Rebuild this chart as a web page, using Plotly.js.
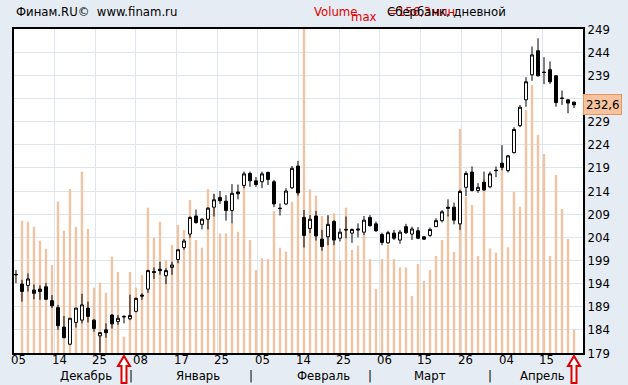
<!DOCTYPE html>
<html><head><meta charset="utf-8">
<script src="https://cdn.plot.ly/plotly-3.0.1.min.js"></script>
<style>html,body{margin:0;padding:0;background:#e6ecf4;}</style>
</head><body><div id="chart" style="width:628px;height:385px;"></div>
<script>
// ---- data ----
const openP  = [196.0,193.9,193.6,192.6,192.8,193.3,190.3,188.8,184.6,180.9,185.6,186.1,188.7,186.1,182.7,184.0,187.2,185.8,186.9,186.4,188.0,191.5,192.8,196.6,197.1,195.7,197.5,199.2,201.8,204.7,208.6,206.8,207.9,210.5,212.6,211.8,209.8,213.8,215.2,217.8,216.2,216.0,218.0,216.0,210.3,211.2,214.7,219.4,208.3,205.9,208.6,203.6,204.1,207.4,203.8,205.7,204.9,205.8,205.1,208.3,206.9,204.6,202.8,204.9,203.4,206.3,204.7,205.4,204.1,204.4,206.3,207.6,210.5,210.5,206.9,214.8,218.1,214.1,215.9,214.9,218.5,220.0,218.4,222.3,228.1,233.7,239.1,244.3,239.7,240.2,238.9,234.1,233.7,233.2];
const highP  = [196.9,194.8,196.2,193.8,193.6,194.1,191.5,189.4,187.0,186.5,188.7,191.8,190.1,186.3,183.4,185.4,187.4,187.2,187.2,191.6,191.0,191.9,197.0,197.5,198.7,197.3,198.7,201.4,203.6,208.5,210.0,208.1,210.5,213.4,214.0,213.1,215.5,215.4,218.2,218.2,217.0,218.2,218.2,216.4,211.3,214.6,219.4,220.5,209.9,208.8,209.7,205.6,208.8,207.7,205.9,208.5,205.9,207.0,208.6,208.8,207.4,205.0,205.4,205.6,205.6,206.9,206.3,206.2,204.3,206.1,208.1,209.9,212.2,211.5,214.3,218.3,219.3,215.7,218.2,218.2,219.3,223.9,221.8,227.8,232.6,238.6,245.2,247.0,242.9,242.0,238.9,235.7,233.8,233.3];
const lowP   = [194.1,190.1,192.3,190.6,190.5,190.5,188.7,184.0,182.2,180.7,184.5,185.4,185.6,183.6,179.1,182.3,184.3,185.1,185.4,186.1,187.8,190.5,192.0,195.0,195.9,193.9,195.9,198.4,201.3,203.9,206.9,205.7,205.7,208.5,211.2,207.6,207.0,212.2,214.6,214.9,214.9,214.6,215.3,210.5,208.7,211.0,214.4,213.0,201.8,204.9,203.3,201.1,202.3,202.3,203.1,203.8,202.8,204.0,204.5,206.3,205.2,202.3,202.6,203.4,202.6,204.7,203.4,203.6,203.4,204.1,206.2,207.2,208.5,206.8,205.6,212.9,213.9,213.6,214.1,214.6,217.0,218.5,218.0,222.1,227.8,232.2,237.8,238.7,237.1,237.1,232.2,232.6,230.8,231.9];
const closeP = [195.9,192.3,195.0,191.9,192.3,190.6,189.2,184.9,182.3,186.5,188.7,189.4,186.9,184.3,183.4,183.4,185.3,186.5,186.8,187.1,190.8,191.3,196.8,196.4,196.8,196.8,198.0,201.3,203.2,208.3,207.2,207.9,210.3,212.1,211.9,209.8,213.5,213.4,217.7,216.2,215.4,217.7,216.5,211.2,210.2,214.0,218.9,213.6,204.4,207.9,204.3,202.0,206.8,203.4,205.1,205.6,205.7,205.6,207.7,206.5,205.4,202.9,205.0,203.8,205.1,205.0,205.8,203.8,203.6,205.7,207.6,209.5,210.3,207.7,213.9,217.8,214.1,214.8,214.2,217.7,218.4,219.1,221.6,227.3,232.1,237.6,243.4,238.9,239.6,237.6,233.1,234.0,233.0,232.6];
const volumeM = [0,63.8,63.3,60.9,54.2,50.3,42.4,73.0,59.0,79.1,60.9,87.5,59.8,31.5,33.9,29.1,46.5,39.1,7.9,39.1,31.5,37.6,70.1,55.6,63.3,44.9,52.1,61.7,59.3,73.8,54.5,50.8,79.1,76.7,57.7,57.7,62.6,58.5,82.0,54.5,40.0,45.7,45.3,68.5,50.8,48.9,73.0,80.0,156.3,79.0,75.9,66.1,66.1,67.4,44.5,70.1,49.7,51.8,57.7,45.3,30.9,45.3,52.1,45.3,41.3,41.3,27.5,42.9,34.9,40.0,46.8,54.5,66.6,48.7,108.1,75.4,71.4,46.8,84.0,50.5,48.4,90.2,51.0,77.8,70.6,117.2,129.3,105.2,96.0,46.8,85.9,69.5,55.0,11.1];
const volumeMax = 156.3;
const dayLabels = ['05','14','25','08','17','25','05','14','25','06','15','26','04','15'];
const priceTicks = [179,184,189,194,199,204,209,214,219,224,229,234,239,244,249];
const monthNames = ['Декабрь','Январь','Февраль','Март','Апрель'];
const monthCenters = [11.7,30.3,51.2,69.0,87.7];
const monthSeparators = [19.2,39.2,59.0,79.0];
const eventDays = [18,93];
const lastPrice = 232.6;

// ---- chart ----
const idx = openP.map((_, i) => i);
const xMin = -0.33, xMax = 94.5;
const gridVals = dayLabels.map((_, i) => xMin + i * (xMax - xMin) / dayLabels.length);
const FONT = "'DejaVu Sans Condensed','Liberation Sans',sans-serif";
const NB = '\u00a0';

const volTrace = {
  type: 'bar', x: idx, y: volumeM, yaxis: 'y', xaxis: 'x',
  marker: {color: '#f0c3a3', line: {width: 0}}, hoverinfo: 'skip', showlegend: false
};
const candleTrace = {
  type: 'candlestick', x: idx, open: openP, high: highP, low: lowP, close: closeP,
  xaxis: 'x', yaxis: 'y2', whiskerwidth: 0,
  increasing: {line: {color: '#000', width: 1}, fillcolor: '#ffffff'},
  decreasing: {line: {color: '#000', width: 1}, fillcolor: '#000000'},
  hoverinfo: 'skip', showlegend: false
};

const titleY = 1 + 17/324;
const annotations = [
  {xref:'paper', yref:'paper', x:0, y:titleY, xanchor:'left', yanchor:'middle', showarrow:false,
   text:'Финам.RU©' + NB + NB + 'www.finam.ru', font:{family:FONT, size:13, color:'#000'}},
  {xref:'paper', yref:'paper', x:(312-14)/569, y:titleY, xanchor:'left', yanchor:'middle', showarrow:false,
   text:'Volume', font:{family:FONT, size:13, color:'#e00000'}},
  {xref:'paper', yref:'paper', x:(349-14)/569, y:1 + 13/324, xanchor:'left', yanchor:'middle', showarrow:false,
   text:'max', font:{family:FONT, size:13, color:'#e00000'}},
  {xref:'paper', yref:'paper', x:(386-14)/569, y:titleY, xanchor:'left', yanchor:'middle', showarrow:false,
   text:'=156,3млн', font:{family:FONT, size:13, color:'#e00000'}},
  {xref:'paper', yref:'paper', x:(385-14)/569, y:titleY, xanchor:'left', yanchor:'middle', showarrow:false,
   text:'Сбербанк, дневной', font:{family:FONT, size:13, color:'#000'}},
  {xref:'paper', yref:'y2', x:1, y:lastPrice, xanchor:'left', yanchor:'middle', showarrow:false,
   text:String(lastPrice).replace('.', ','), bgcolor:'#f7c29e', bordercolor:'#e8935a', borderwidth:1, borderpad:2,
   font:{family:FONT, size:13, color:'#000'}}
];
dayLabels.forEach((d, i) => annotations.push({xref:'x', yref:'paper', x:gridVals[i], y:-6.5/324,
  xshift:4.5, xanchor:'center', yanchor:'middle', showarrow:false, text:d, font:{family:FONT, size:13, color:'#000'}}));
monthNames.forEach((m, i) => annotations.push({xref:'x', yref:'paper', x:monthCenters[i], y:-22/324,
  xanchor:'center', yanchor:'middle', showarrow:false, text:m, font:{family:FONT, size:13, color:'#000'}}));
monthSeparators.forEach(s => annotations.push({xref:'x', yref:'paper', x:s, y:-22/324,
  xanchor:'center', yanchor:'middle', showarrow:false, text:'|', font:{family:FONT, size:13, color:'#000'}}));

const shapes = eventDays.map(d => ({
  type:'path', xref:'x', yref:'paper', xsizemode:'pixel', ysizemode:'pixel', xanchor:d, yanchor:0,
  path:'M0,-3 L6,-13 L2.5,-13 L2.5,-30 L-2.5,-30 L-2.5,-13 L-6,-13 Z',
  fillcolor:'#ffffff', line:{color:'#e00000', width:2}
}));

const layout = {
  width: 628, height: 385,
  margin: {l: 14, r: 45, t: 29, b: 32, pad: 0},
  paper_bgcolor: '#e6ecf4', plot_bgcolor: '#ffffff',
  font: {family: FONT, size: 13, color: '#000'},
  showlegend: false, bargap: 0.6,
  xaxis: {
    range: [xMin, xMax], tickmode: 'array', tickvals: gridVals, showticklabels: false,
    ticks: '', showgrid: true, gridcolor: '#dfe5ec', gridwidth: 1,
    zeroline: false, showline: true, linecolor: '#000', linewidth: 2, mirror: true,
    rangeslider: {visible: false}, fixedrange: true
  },
  yaxis: {range: [0, volumeMax], visible: false, showgrid: false, fixedrange: true},
  yaxis2: {
    overlaying: 'y', side: 'right', range: [179, 249], tickmode: 'array', tickvals: priceTicks,
    ticks: '', showgrid: true, gridcolor: '#dfe5ec', gridwidth: 1, zeroline: false,
    showline: true, linecolor: '#000', linewidth: 2, mirror: true, fixedrange: true,
    tickfont: {family: FONT, size: 13}
  },
  annotations: annotations,
  shapes: shapes
};

Plotly.newPlot('chart', [volTrace, candleTrace], layout, {displayModeBar: false, staticPlot: true});
</script></body></html>
